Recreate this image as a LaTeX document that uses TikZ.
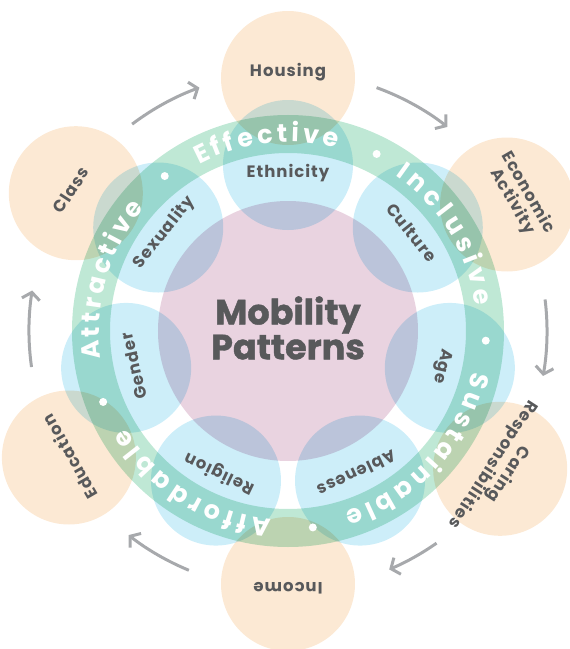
\documentclass[tikz,border=0pt]{standalone}
\usepackage{fontspec}
\setmainfont{Poppins}
\newfontfamily\lblfont{Poppins}[LetterSpace=6]
\newfontfamily\titlefont{Poppins}[FakeBold=1.2]
\usetikzlibrary{arrows.meta,decorations.text}

\definecolor{hubpink}{HTML}{E9D3E0}
\definecolor{factorblue}{HTML}{CDEEF9}
\definecolor{contextorange}{HTML}{FCE9D4}
\definecolor{ringgreen}{HTML}{BFE8D5}
\definecolor{inkgray}{HTML}{58595B}
\definecolor{flowgray}{HTML}{A7A9AC}

\newcommand\ringfont{\bfseries\fontsize{25.5}{26}\selectfont\color{white}}

\tikzset{
	hub/.style={circle, fill=hubpink, minimum size=260pt, inner sep=0pt, blend mode=multiply},
	factor/.style={circle, fill=factorblue, minimum size=130pt, inner sep=0pt, blend mode=multiply},
	context/.style={circle, fill=contextorange, minimum size=134pt, inner sep=0pt, blend mode=multiply},
	lbl/.style={text=inkgray, font=\lblfont\bfseries\fontsize{16.5}{18}\selectfont, align=center, inner sep=0pt},
	flow/.style={draw=flowgray, line width=3pt, -{Straight Barb[length=7pt,width=18pt]}},
	ringdot/.style={circle, fill=white, minimum size=8pt, inner sep=0pt},
}

\begin{document}
\begin{tikzpicture}[x=1pt,y=1pt]
	\useasboundingbox (-288,-318) rectangle (282,331);
	% outer contexts
	\foreach \name/\ang in {housing/90, econ/30, caring/-33, income/-90, education/-150, class/147}
		\node[context] (\name) at (\ang:253) {};
	% ring
	\draw[ringgreen, line width=38pt, blend mode=multiply] (0,0) circle[radius=197];
	% centre and factors
	\node[hub] (hub) at (0,0) {};
	\foreach \name [count=\i] in {ethnicity, culture, age, ableness, religion, gender, sexuality}{
		\pgfmathsetmacro\ang{90-(\i-1)*360/7}
		\node[factor] (\name) at (\ang:166) {};
	}
	%
	\foreach \name/\txt [count=\i] in {ethnicity/Ethnicity, culture/Culture, age/Age, ableness/Ableness, religion/Religion, gender/Gender, sexuality/Sexuality}{
		\pgfmathsetmacro\ang{90-(\i-1)*360/7}
		\node[lbl, rotate=\ang-90] (\name-t) at (\ang:158) {\txt};
	}
	\foreach \name/\ang/\rad/\txt in {housing/90/259/Housing, econ/30/268/{Economic\\Activity}, caring/-33/253/{Caring\\Responsibilities}, income/-90/257/Income, education/-150/252/Education, class/147/259/Class}
		\node[lbl, rotate=\ang-90] (\name-t) at (\ang:\rad) {\txt};
	\node[text=inkgray, font=\titlefont\bfseries\fontsize{35}{33}\selectfont, align=center] (title) at (0,3) {Mobility\\Patterns};
	% ring words
	\foreach \word/\from/\to in {Effective/118/75, Inclusive/55.5/7.5, Sustainable/-12.5/-72.5, Affordable/-95/-149, Attractive/188.5/139.5}
		\path[decorate, decoration={text along path, text/.expanded={|\noexpand\ringfont|\word}, text align=fit to path}] (\from:189) arc[start angle=\from, end angle=\to, radius=189];
	\foreach \a [count=\i] in {128.5, 63.4, -2.8, -82.8, 201}
		\node[ringdot] (dot\i) at (\a:198) {};
	% arrows
	\foreach \a/\b [count=\i] in {127/110, 70/52, 7/-10, -55/-67, -112.5/-128, 188/171}{
		\coordinate (f\i) at (\a:259);
		\draw[flow] (f\i) arc[start angle=\a, end angle=\b, radius=259];
	}
\end{tikzpicture}
\end{document}
